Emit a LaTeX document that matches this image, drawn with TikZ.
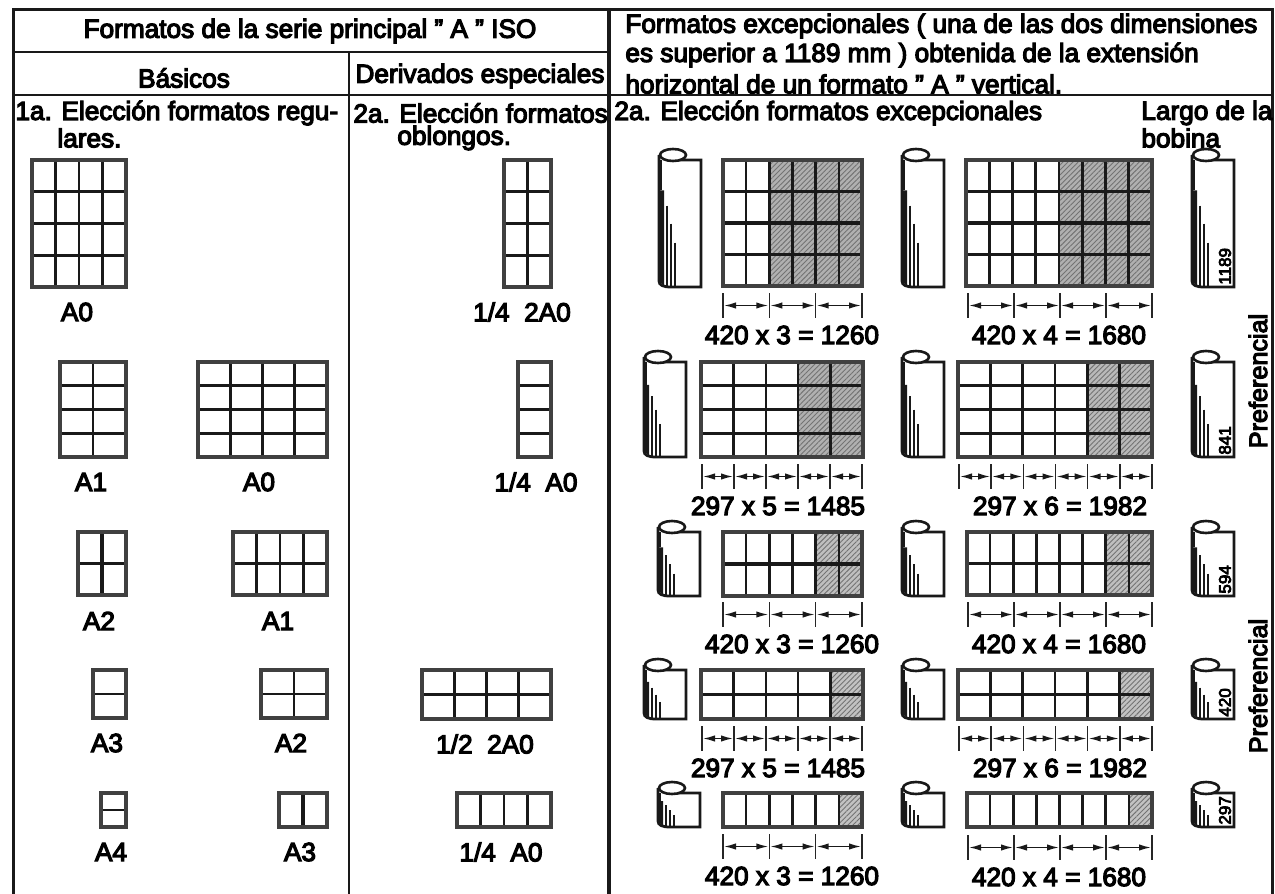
\documentclass[tikz,border=0pt]{standalone}
\usepackage{fontspec}
\setmainfont{Liberation Sans}[FakeBold=4.5]
\usetikzlibrary{arrows.meta,patterns.meta}

\tikzset{
  rule/.style={line width=1.5pt,black!90},
  txt/.style={inner sep=0pt,font=\fontsize{13.1}{14}\selectfont},
  txtleft/.style={txt,anchor=west,align=left},
  sheetline/.style={black!90},
  sheetedge/.style={line width=1.55pt,black!75},
  waste/.style={fill=gray!#1,postaction={pattern={Lines[angle=45,distance=1.8pt,line width=.45pt]},pattern color=black!55}},
  tick/.style={line width=.7pt,black!85},
  dimline/.style={line width=.75pt,black!90,{Latex[length=6pt,width=3.2pt]}-{Latex[length=6pt,width=3.2pt]},shorten <=.5pt,shorten >=.5pt},
  rollbody/.style={line width=1.4pt,black!90,fill=white},
  rollshade/.style={black!90,line cap=butt},
  bobina/.style={inner sep=0pt,anchor=west,rotate=90,font=\fontsize{8.5}{8.5}\selectfont}
}

\begin{document}
\begin{tikzpicture}[x=0.5pt,y=-0.5pt]
  \useasboundingbox (0,0) rectangle (1275,894);

  \draw[rule] (13,894) -- (13,9) -- (1272,9) -- (1272,894);
  \draw[rule,line width=1.2pt] (13,52) -- (609,52);
  \draw[rule,line width=1.2pt] (13,95) -- (1272,95);
  \draw[rule,line width=1.1pt] (349,52) -- (349,894);
  \draw[rule,line width=2pt] (609,9) -- (609,894);

  \node[txt] (titlebase) at (310,31) {Formatos de la serie principal " A " ISO};
  \node[txt] (basicos) at (184,78) {Básicos};
  \node[txt] (derivados) at (480,76) {Derivados especiales};
  \node[txtleft] (excep1) at (625,26) {Formatos excepcionales ( una de las dos dimensiones};
  \node[txtleft] (excep2) at (625,55) {es superior a 1189 mm ) obtenida de la extensión};
  \node[txtleft] (excep3) at (625,84) {horizontal de un formato " A " vertical.};
  \node[txtleft] (eleccion1) at (15,113) {1a. Elección formatos regu-};
  \node[txtleft] (eleccion1b) at (57,138) {lares.};
  \node[txtleft] (eleccion2) at (353,113) {2a. Elección formatos};
  \node[txtleft] (eleccion2b) at (397,138) {oblongos.};
  \node[txtleft] (eleccion3) at (614,113) {2a. Elección formatos excepcionales};
  \node[txtleft] (largo) at (1141,113) {Largo de la};
  \node[txtleft] (bobinatxt) at (1141,138) {bobina};
  \node[txt,rotate=90,font=\fontsize{12.6}{13}\selectfont] (pref1) at (1258,381) {Preferencial};
  \node[txt,rotate=90,font=\fontsize{12.6}{13}\selectfont] (pref2) at (1258,686) {Preferencial};

  \foreach \xa/\ya/\xb/\yb/\nc/\nr/\nh/\hc/\hr/\gr in {
      32/160/126/287/4/4/0/3/2/0, 60/362/126/457/2/4/0/0/0/0, 198/362/327/457/4/4/0/2/0/0,
      78/532/126/595/2/2/0/1/1/0, 233/532/327/595/4/2/0/3/1/0, 93/670/126/718/1/2/0/0/0/0,
      261/670/327/718/2/2/0/0/0/0, 101/793/126/827/1/2/0/0/0/0, 279/793/327/827/2/1/0/1/0/0,
      504/160/551/287/2/4/0/0/2/0, 518/362/551/457/1/4/0/0/0/0, 422/670/551/719/4/2/0/2/0/0,
      457/793/551/827/4/1/0/0/0/0,
      723/160/862/286/6/4/4/0/2/62, 966/160/1152/286/8/4/4/0/2/62, 701/362/863/457/5/4/2/0/0/62,
      958/362/1152/457/6/4/2/0/0/55, 723/532/862/596/6/2/2/0/1/50, 967/532/1152/595/8/2/2/0/1/50,
      701/670/863/719/5/2/1/0/0/48, 958/670/1152/719/6/2/1/0/0/48, 723/793/862/827/6/1/1/0/0/48,
      967/793/1152/827/8/1/1/0/0/48} {
    \pgfmathsetmacro\cw{(\xb-\xa)/\nc}
    \pgfmathsetmacro\ch{(\yb-\ya)/\nr}
    \ifnum\nh>0
      \path[waste=\gr] (\xb-\nh*\cw,\ya) rectangle (\xb,\yb);
    \fi
    \foreach \i in {1,...,\nc} {
      \pgfmathsetmacro\lw{\i==\hc ? 1.9 : 1.27}
      \draw[sheetline,line width=\lw pt] (\xa+\i*\cw,\ya) -- (\xa+\i*\cw,\yb);
    }
    \foreach \j in {1,...,\nr} {
      \pgfmathsetmacro\lw{\j==\hr ? 1.9 : 1.27}
      \draw[sheetline,line width=\lw pt] (\xa,\ya+\j*\ch) -- (\xb,\ya+\j*\ch);
    }
    \draw[sheetedge] (\xa,\ya) rectangle (\xb,\yb);
  }

  \foreach \xa/\ya/\yb in {
      659/160/287, 902/160/287, 1192/160/287,
      644/362/457, 902/362/457, 1192/362/457,
      658/532/596, 902/532/596, 1192/532/596,
      644/670/719, 902/670/719, 1192/670/719,
      658/793/827, 902/793/827, 1192/793/827} {
    \pgfmathsetmacro\hh{\yb-\ya}
    \draw[rollbody] (\xa,\ya-5) -- (\xa,\yb-6)
      .. controls (\xa,\yb-2) and (\xa+4,\yb) .. (\xa+12,\yb) -- (\xa+42,\yb) -- (\xa+42,\ya) -- (\xa+14,\ya);
    \fill[rollshade] (\xa,\ya) rectangle (\xa+2.5,\ya+.24*\hh);
    \fill[rollshade] (\xa,\ya+.24*\hh) -- (\xa+5,\ya+.24*\hh) -- (\xa+5,\yb-1)
      -- (\xa+3,\yb-3) -- (\xa,\yb-6) -- cycle;
    \draw[rollshade,line width=1pt] (\xa+8,\ya+.36*\hh) -- (\xa+8,\yb);
    \draw[rollshade,line width=1pt] (\xa+12,\ya+.5*\hh) -- (\xa+12,\yb);
    \draw[rollshade,line width=1pt] (\xa+16,\ya+.65*\hh) -- (\xa+16,\yb);
    \draw[rollbody,line width=1.3pt] (\xa+14,\ya-5) ellipse (13 and 6);
  }

  \foreach \xa/\xb/\yt/\n/\xt/\lbl in {
      723/862/293/3/792/{420 x 3 = 1260}, 968/1152/293/4/1059/{420 x 4 = 1680},
      702/862/464/5/778/{297 x 5 = 1485}, 959/1152/464/6/1060/{297 x 6 = 1982},
      723/862/602/3/792/{420 x 3 = 1260}, 968/1152/602/4/1059/{420 x 4 = 1680},
      702/862/726/5/778/{297 x 5 = 1485}, 959/1152/726/6/1060/{297 x 6 = 1982},
      723/862/834/3/792/{420 x 3 = 1260}, 968/1152/835/4/1059/{420 x 4 = 1680}} {
    \pgfmathsetmacro\dw{(\xb-\xa)/\n}
    \foreach \i in {0,...,\n} {
      \coordinate (ticktop) at (\xa+\i*\dw,\yt);
      \coordinate (tickbot) at (\xa+\i*\dw,\yt+25);
      \draw[tick] (ticktop) -- (tickbot);
    }
    \pgfmathtruncatemacro\nlast{\n-1}
    \foreach \i in {0,...,\nlast} {
      \coordinate (dimleft) at (\xa+\i*\dw,\yt+12.5);
      \coordinate (dimright) at (\xa+\i*\dw+\dw,\yt+12.5);
      \draw[dimline] (dimleft) -- (dimright);
    }
    \node[txt] (dim\xa\yt) at (\xt,\yt+42) {\lbl};
  }

  \foreach \x/\y/\lbl in {
      77/312/A0, 91/482/A1, 259/482/A0, 99/621/A2, 278/621/A1,
      107/743/A3, 291/743/A2, 111/852/A4, 300/852/A3,
      522/312/{1/4~~2A0}, 536/482/{1/4~~A0}, 485/744/{1/2~~2A0}, 501/852/{1/4~~A0}} {
    \node[txt] (fmt\x\y) at (\x,\y) {\lbl};
  }

  \foreach \yb/\lbl in {285/1189, 455/841, 594/594, 717/420, 825/297} {
    \node[bobina] (largo\lbl) at (1225,\yb) {\lbl};
  }
\end{tikzpicture}
\end{document}
